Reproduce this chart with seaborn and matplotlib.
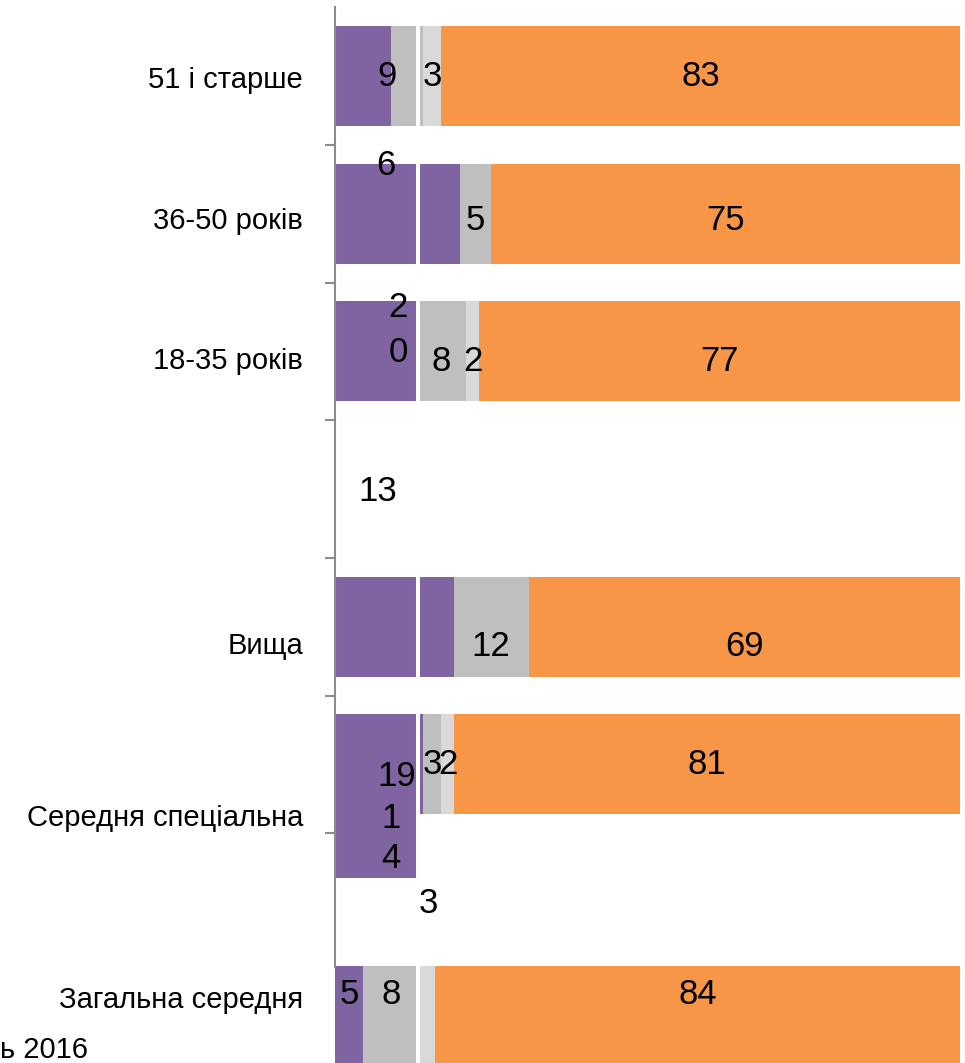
import numpy as np
import pandas as pd
import matplotlib.pyplot as plt
import seaborn as sns

sns.set_style("white")
plt.rcParams["font.family"] = ["Liberation Sans", "DejaVu Sans"]

# rows from top; the empty 4th row has no bars
categories = ["51 і старше", "36-50 років", "18-35 років", "Вища", "Середня спеціальна", "Загальна середня"]
row_pos = [0, 1, 2, 4, 5, 6.83]
cat_label_y = [0.01, 1.03, 2.05, 4.12, 5.37, 6.69]

purple = [9, 20, 13, 19, 14, 4.5]
grey = [5, 5, 8, 12, 3, 9]
light = [3, 0, 2, 0, 2, 2.5]
orange = [83, 75, 77, 69, 81, 84]

purple_lbl = ["", "", "", "", "", "5"]
grey_lbl = ["", "5", "8", "12", "3", "8"]
light_lbl = ["3", "", "2", "", "2", ""]
orange_lbl = ["83", "75", "77", "69", "81", "84"]
lbl_shift = [0.0, 0.05, 0.07, 0.14, 0.0, -0.16]

# stray labels floating around the purple segments
loose_txt = ["9", "6", "2", "0", "13", "19", "1", "4", "3"]
loose_x = [8.3, 8.2, 10.1, 10.1, 6.9, 9.9, 9.0, 9.0, 14.9]
loose_y = [0.0, 0.65, 1.68, 2.01, 3.02, 5.09, 5.39, 5.68, 6.01]

# extra purple block hanging under "Середня спеціальна"
ext_x = [13.3]
ext_y = [5.541]

C_PURPLE = "#8064A2"
C_GREY = "#BFBFBF"
C_LIGHT = "#D9D9D9"
C_ORANGE = "#F79646"

df = pd.DataFrame({"pos": row_pos, "p": purple, "g": grey, "l": light, "o": orange})
df["c1"] = df["p"]
df["c2"] = df["c1"] + df["g"]
df["c3"] = df["c2"] + df["l"]
df["c4"] = df["c3"] + df["o"]

fig = plt.figure(figsize=(9.65, 10.63), dpi=100)
ax = fig.add_axes([335 / 965, 0, 625 / 965, 1])

for col, c in [("c4", C_ORANGE), ("c3", C_LIGHT), ("c2", C_GREY), ("c1", C_PURPLE)]:
    sns.barplot(data=df, x=col, y="pos", orient="y", native_scale=True, width=0.726,
                color=c, saturation=1, errorbar=None, linewidth=0, ax=ax)
sns.barplot(x=ext_x, y=ext_y, orient="y", native_scale=True, width=0.566,
            color=C_PURPLE, saturation=1, errorbar=None, linewidth=0, ax=ax)

# white break line through the bars
ax.axvline(13.3, color="white", lw=2.9, zorder=3)

fs = 25
for i, y in enumerate(row_pos):
    starts = [0, df["c1"][i], df["c2"][i], df["c3"][i]]
    widths = [purple[i], grey[i], light[i], orange[i]]
    texts = [purple_lbl[i], grey_lbl[i], light_lbl[i], orange_lbl[i]]
    for s, w, t in zip(starts, widths, texts):
        if t:
            ax.text(s + w / 2, y + lbl_shift[i], t, ha="center", va="center",
                    fontsize=fs, color="black", zorder=5)
for t, x, y in zip(loose_txt, loose_x, loose_y):
    ax.text(x, y, t, ha="center", va="center", fontsize=fs, color="black", zorder=5)

ax.set_xlim(0, 100)
ax.set_ylim(7.168, -0.552)
ax.set_xlabel("")
ax.set_ylabel("")
ax.set_xticks([])

ax.set_yticks(cat_label_y)
ax.set_yticklabels(categories, fontsize=21, color="black")
ax.set_yticks([0.5, 1.5, 2.5, 3.5, 4.5, 5.5], minor=True)
ax.tick_params(axis="y", which="major", left=True, length=0, pad=23)
ax.tick_params(axis="y", which="minor", left=True, length=7, width=1.5,
               color="#8C8C8C", direction="out")

for side in ["top", "right", "bottom"]:
    ax.spines[side].set_visible(False)
ax.spines["left"].set_color("#8C8C8C")
ax.spines["left"].set_linewidth(1.5)
ax.spines["left"].set_bounds(-0.5, 6.47)

fig.text(0.0, 27 / 1063, "ь 2016", fontsize=21, ha="left", va="top", color="black")

fig.savefig("out.png", dpi=100)
